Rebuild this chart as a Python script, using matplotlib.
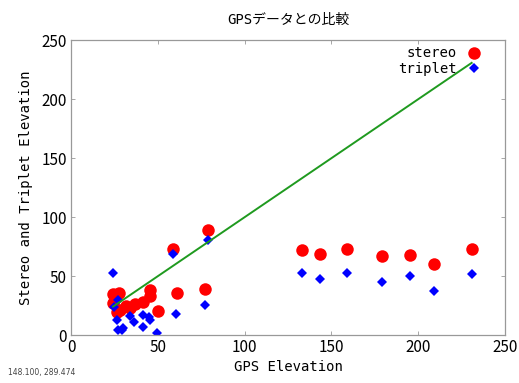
import numpy as np
from matplotlib import pyplot as plt

plt.rcParams['font.family'] = ['DejaVu Sans Mono', 'Noto Sans CJK JP']

# GPS elevation vs. stereo estimate
stereo_gps = [78.6, 59.0, 24.2, 27.6, 45.5, 45.5, 60.8, 76.9, 50.1, 41.2, 36.9, 31.7,
              28.2, 24.2, 34.0, 26.5, 133.2, 143.6, 159.0, 179.1, 195.4, 208.9, 230.8]
stereo_elev = [88.7, 72.6, 34.7, 35.6, 38.1, 33.1, 35.8, 39.4, 20.3, 28.2, 26.3, 24.6,
               21.2, 27.1, 22.9, 19.5, 72.0, 68.9, 72.6, 67.2, 68.0, 60.4, 72.6]

# GPS elevation vs. triplet estimate
triplet_gps = [23.9, 78.6, 59.0, 27.2, 24.8, 76.9, 60.7, 49.5, 26.3, 29.2, 34.0, 36.3,
               41.5, 41.5, 44.9, 45.5, 30.1, 27.1, 133.2, 143.6, 159.0, 179.1, 195.4,
               208.9, 230.8]
triplet_elev = [53.0, 80.5, 68.9, 29.7, 24.2, 25.8, 17.5, 1.7, 12.7, 4.2, 16.5, 11.3,
                7.0, 16.9, 15.3, 12.7, 5.7, 4.2, 52.3, 48.0, 52.5, 45.2, 49.7, 37.5, 51.9]

ticks = [0, 50, 100, 150, 200, 250]

fig = plt.figure(figsize=(5.19, 3.83), dpi=100)
ax = fig.add_axes([0.137, 0.125, 0.836, 0.770])

ax.plot(stereo_gps, stereo_elev, 'o', color='#ff0000', markersize=9,
        markeredgewidth=0, label='stereo')
ax.plot(triplet_gps, triplet_elev, 'D', color='#0000ff', markersize=4.8,
        markeredgewidth=0, label='triplet')

# one-to-one line over the GPS range
line_x = np.array([min(stereo_gps), max(stereo_gps)])
ax.plot(line_x, line_x, color='#1f9a1f', linewidth=1.4)

ax.set_xlim(0, 250)
ax.set_ylim(0, 250)
ax.set_xticks(ticks)
ax.set_yticks(ticks)
ax.tick_params(direction='in', length=3, width=0.6, color='#999999',
               top=True, right=True, labelsize=11, pad=3)
for lbl in ax.get_xticklabels() + ax.get_yticklabels():
    lbl.set_family('Noto Sans CJK JP')
for sp in ax.spines.values():
    sp.set_color('#999999')
    sp.set_linewidth(0.9)

ax.set_title('GPSデータとの比較', fontsize=10, pad=12)
ax.set_xlabel('GPS Elevation', fontsize=10, labelpad=3)
ax.set_ylabel('Stereo and Triplet Elevation', fontsize=10, labelpad=6)

ax.legend(loc='upper right', bbox_to_anchor=(0.968, 1.012), frameon=False,
          markerfirst=False, fontsize=10, handlelength=1.0, handletextpad=0.8,
          labelspacing=0.1, borderaxespad=0.3)

fig.text(0.015, 0.02, '148.100, 289.474', fontsize=5.5, color='#444444',
         family='DejaVu Sans')

fig.savefig('out.png', dpi=100)
